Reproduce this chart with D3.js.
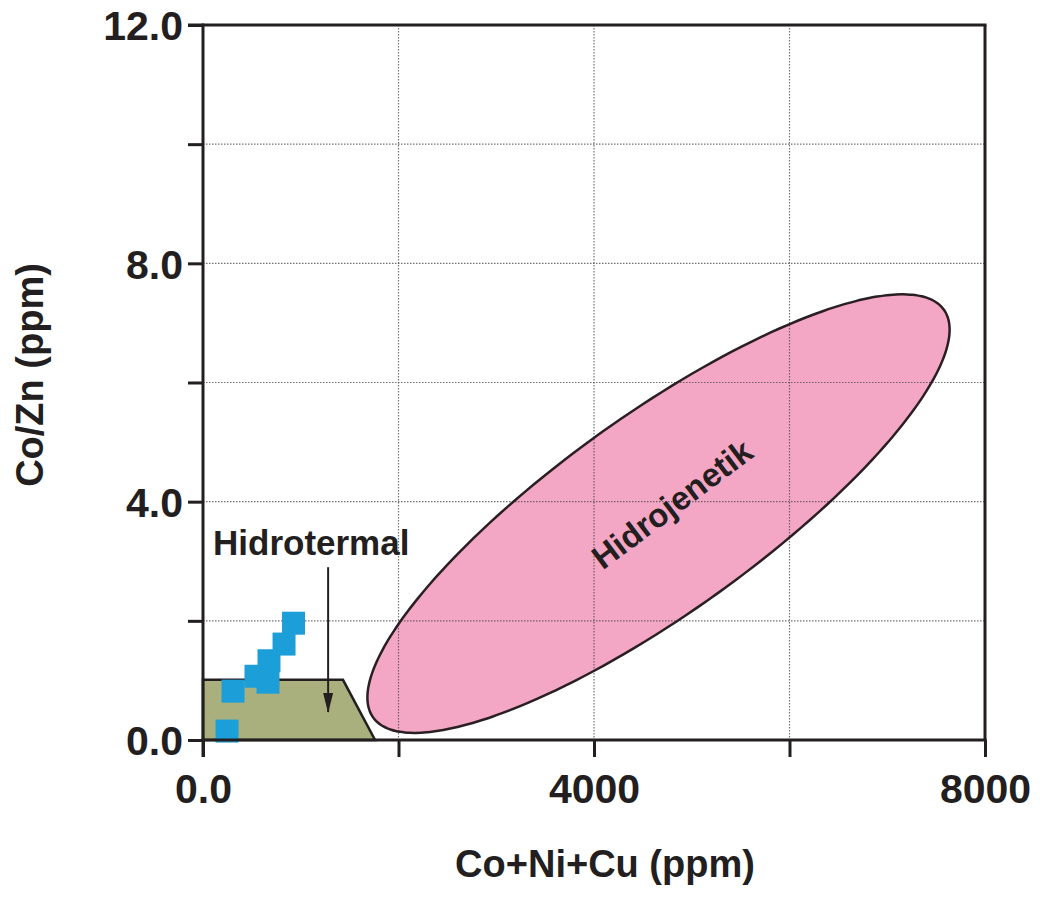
<!DOCTYPE html>
<html>
<head>
<meta charset="utf-8">
<script src="https://cdn.jsdelivr.net/npm/d3@7"></script>
<style>
  body { margin: 0; background: #fff; }
  text { font-family: "Liberation Sans", Arial, sans-serif; font-weight: bold; fill: #231f20; }
</style>
</head>
<body>
<svg id="chart" width="1040" height="897"></svg>
<script>
// sample points (Co+Ni+Cu, Co/Zn)
const coNiCu = [246, 307, 542, 665, 675, 829, 926];
const coZn = [0.15, 0.82, 1.07, 0.97, 1.33, 1.61, 1.96];

// Hidrotermal field polygon
const hydroX = [0, 1432, 1760, 0];
const hydroY = [1.01, 1.01, 0, 0];

// Hidrojenetik field: centre and two conjugate half-diameters (data units)
const hgCenter = [4660, 3.8];
const hgAxisA = [2920, 3.42];
const hgAxisB = [585, -1.36];

// arrow from label down into field
const arrowX = [1280, 1280];
const arrowY = [2.9, 0.47];

const xTicks = [0, 2000, 4000, 6000, 8000];
const xLabelVals = [0, 4000, 8000];
const xLabelText = ["0.0", "4000", "8000"];
const yTicks = [0, 2, 4, 6, 8, 10, 12];
const yLabelVals = [0, 4, 8, 12];
const yLabelText = ["0.0", "4.0", "8.0", "12.0"];

const svg = d3.select('#chart');
const x = d3.scaleLinear().domain([0, 8000]).range([203, 985]);
const y = d3.scaleLinear().domain([0, 12]).range([740, 25]);

const line = d3.line().x(d => x(d[0])).y(d => y(d[1]));

// Hidrojenetik ellipse
let ell = d3.range(0, 360, 2).map(function(deg) {
  let t = deg * Math.PI / 180;
  return [hgCenter[0] + hgAxisA[0] * Math.cos(t) + hgAxisB[0] * Math.sin(t),
          hgCenter[1] + hgAxisA[1] * Math.cos(t) + hgAxisB[1] * Math.sin(t)];
});
svg.append('path')
  .attr('d', line.curve(d3.curveCardinalClosed)(ell))
  .attr('fill', '#f4a6c5')
  .attr('stroke', 'none');

// grid
svg.append('g').selectAll('line')
  .data(xTicks.filter(d => d > 0 && d < 8000))
  .enter().append('line')
  .attr('x1', d => x(d)).attr('x2', d => x(d))
  .attr('y1', y(12)).attr('y2', y(0))
  .attr('stroke', '#444').attr('stroke-width', 1.2)
  .attr('stroke-dasharray', '1.5,1.5').attr('opacity', 0.75);
svg.append('g').selectAll('line')
  .data(yTicks.filter(d => d > 0 && d < 12))
  .enter().append('line')
  .attr('x1', x(0)).attr('x2', x(8000))
  .attr('y1', d => y(d)).attr('y2', d => y(d))
  .attr('stroke', '#444').attr('stroke-width', 1.2)
  .attr('stroke-dasharray', '1.5,1.5').attr('opacity', 0.75);

// ellipse outline on top of grid
svg.append('path')
  .attr('d', line.curve(d3.curveCardinalClosed)(ell))
  .attr('fill', 'none')
  .attr('stroke', '#2a1f22')
  .attr('stroke-width', 2.5);

// Hidrotermal polygon
svg.append('path')
  .attr('d', d3.line().x(d => x(d[0])).y(d => y(d[1])).curve(d3.curveLinearClosed)(d3.zip(hydroX, hydroY)))
  .attr('fill', '#a9b07d')
  .attr('stroke', '#231f20')
  .attr('stroke-width', 2.5);

// sample squares
let sq = 23;
svg.append('g').selectAll('rect')
  .data(d3.zip(coNiCu, coZn))
  .enter().append('rect')
  .attr('x', d => x(d[0]) - sq / 2)
  .attr('y', d => y(d[1]) - sq / 2)
  .attr('width', sq).attr('height', sq)
  .attr('fill', '#1c9fd9');

// arrow
svg.append('defs').append('marker')
  .attr('id', 'arrowhead')
  .attr('viewBox', '0 0 20 10')
  .attr('refX', 19).attr('refY', 5)
  .attr('markerWidth', 20).attr('markerHeight', 10)
  .attr('markerUnits', 'userSpaceOnUse')
  .attr('orient', 'auto')
  .append('path')
  .attr('d', 'M0,0 L20,5 L0,10 Z')
  .attr('fill', '#231f20');
svg.append('line')
  .attr('x1', x(arrowX[0])).attr('y1', y(arrowY[0]))
  .attr('x2', x(arrowX[1])).attr('y2', y(arrowY[1]))
  .attr('stroke', '#231f20').attr('stroke-width', 2)
  .attr('marker-end', 'url(#arrowhead)');

// frame: top and right borders
svg.append('line')
  .attr('x1', x(0) - 15).attr('x2', x(8000) + 1.5)
  .attr('y1', y(12)).attr('y2', y(12))
  .attr('stroke', '#231f20').attr('stroke-width', 3);
svg.append('line')
  .attr('x1', x(8000)).attr('x2', x(8000))
  .attr('y1', y(12)).attr('y2', y(0))
  .attr('stroke', '#231f20').attr('stroke-width', 3);

// axes
let xAxis = svg.append('g')
  .attr('transform', 'translate(0,' + y(0) + ')')
  .call(d3.axisBottom(x).tickValues(xTicks).tickSize(17).tickSizeOuter(0)
    .tickFormat(d => { let i = xLabelVals.indexOf(d); return i >= 0 ? xLabelText[i] : ''; }));
xAxis.select('.domain').attr('stroke', '#231f20').attr('stroke-width', 3).attr('d', 'M' + (x(0) - 1.5) + ',0H' + (x(8000) + 1.5));
xAxis.selectAll('.tick line').attr('stroke', '#231f20').attr('stroke-width', 3);
xAxis.selectAll('.tick text')
  .attr('y', 63).attr('dy', null)
  .style('font-size', '41px')
  .style('font-family', '"Liberation Sans", Arial, sans-serif')
  .style('font-weight', 'bold')
  .attr('fill', '#231f20');

let yAxis = svg.append('g')
  .attr('transform', 'translate(' + x(0) + ',0)')
  .call(d3.axisLeft(y).tickValues(yTicks).tickSize(15).tickSizeOuter(0).tickPadding(5)
    .tickFormat(d => { let i = yLabelVals.indexOf(d); return i >= 0 ? yLabelText[i] : ''; }));
yAxis.select('.domain').attr('stroke', '#231f20').attr('stroke-width', 3).attr('d', 'M0,' + (y(12) - 1.5) + 'V' + (y(0) + 17));
yAxis.selectAll('.tick line').attr('stroke', '#231f20').attr('stroke-width', 3);
yAxis.selectAll('.tick text')
  .attr('dy', '0.36em')
  .style('font-size', '41px')
  .style('font-family', '"Liberation Sans", Arial, sans-serif')
  .style('font-weight', 'bold')
  .attr('fill', '#231f20');

// labels
svg.append('text')
  .attr('x', 213).attr('y', 555)
  .attr('font-size', 35)
  .text('Hidrotermal');

svg.append('text')
  .attr('transform', 'translate(672,504) rotate(-37)')
  .attr('text-anchor', 'middle')
  .attr('dy', '0.35em')
  .attr('font-size', 33)
  .text('Hidrojenetik');

svg.append('text')
  .attr('x', 605).attr('y', 877)
  .attr('text-anchor', 'middle')
  .attr('font-size', 38)
  .text('Co+Ni+Cu (ppm)');

svg.append('text')
  .attr('transform', 'translate(43,375) rotate(-90)')
  .attr('text-anchor', 'middle')
  .attr('font-size', 38)
  .text('Co/Zn (ppm)');
</script>
</body>
</html>
